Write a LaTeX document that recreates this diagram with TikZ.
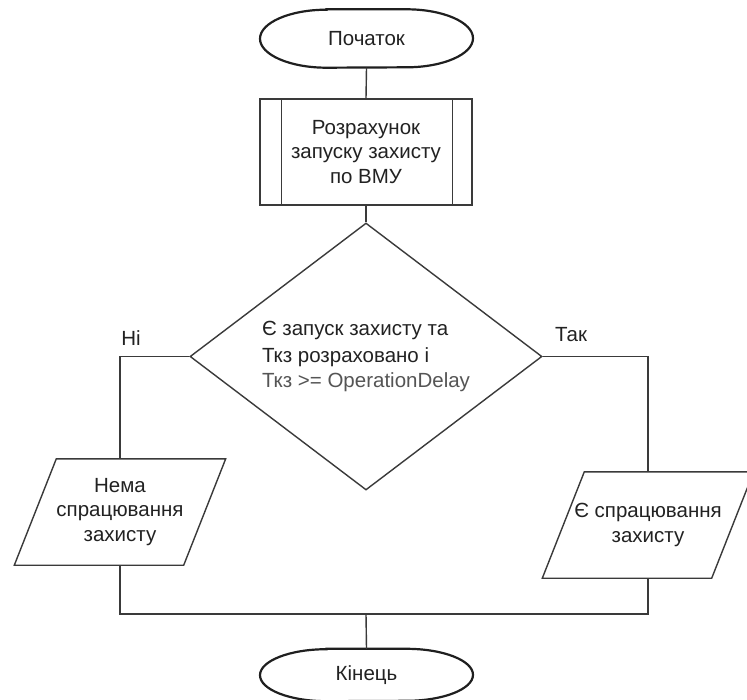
\documentclass[tikz,border=0pt]{standalone}
\usepackage{fontspec}
\setmainfont{Liberation Sans}
\usetikzlibrary{shapes.geometric}
\definecolor{ln}{HTML}{3A3A3A}
\definecolor{tx}{HTML}{222222}
\definecolor{txb}{HTML}{555555}
\begin{document}
\begin{tikzpicture}[x=1pt,y=-1pt,
  every node/.style={font=\fontsize{20.5}{24.5}\selectfont, text=tx, inner sep=0pt},
  conn/.style={draw=ln, line width=1.4pt},
  termline/.style={draw=black!88, line width=2.2pt},
  term/.style={minimum width=213pt, minimum height=58pt},
  procbox/.style={draw=ln, line width=1.4pt, minimum width=212pt, minimum height=106pt, align=center},
  decision/.style={diamond, draw=ln, line width=1.4pt, minimum width=352pt, minimum height=267pt, shape aspect=1.32, align=left},
  iobox/.style={minimum width=211pt, minimum height=106pt, align=center}
]
\useasboundingbox (0,0) rectangle (747,699);
\fill[white] (0,0) rectangle (747,699);

% nodes
\node[term] (start) at (366.5,38.5) {Початок};
\node[procbox] (calc) at (366,152) {Розрахунок\\запуску захисту\\по ВМУ};
\node[decision] (dec) at (366,356.5) {Є запуск захисту та\\[2pt]Ткз розраховано і\\[1pt]{\color{txb}Ткз >= OperationDelay}};
\node[iobox] (no) at (120,512) {Нема\\спрацювання\\захисту};
\node[iobox] (yes) at (648,525) {Є спрацювання\\захисту};
\node[term, minimum height=52pt] (end) at (366.5,675) {Кінець};
\node (nlabel) at (131,338) {Ні};
\node (ylabel) at (571,335) {Так};
\coordinate (join) at (366,614);

% terminator outlines
\draw[termline] ([xshift=-40pt]start.north) -- ([xshift=40pt]start.north)
  arc[start angle=90,end angle=-90,x radius=66.5pt,y radius=29pt]
  -- ([xshift=-40pt]start.south)
  arc[start angle=270,end angle=90,x radius=66.5pt,y radius=29pt] -- cycle;
\draw[termline] ([xshift=-40pt]end.north) -- ([xshift=40pt]end.north)
  arc[start angle=90,end angle=-90,x radius=66.5pt,y radius=26pt]
  -- ([xshift=-40pt]end.south)
  arc[start angle=270,end angle=90,x radius=66.5pt,y radius=26pt] -- cycle;

% predefined-process inner bars
\draw[conn] ([xshift=22pt]calc.north west) -- ([xshift=22pt]calc.south west);
\draw[conn] ([xshift=-20pt]calc.north east) -- ([xshift=-20pt]calc.south east);

% parallelograms
\draw[conn] (no.south west) -- ([xshift=42pt]no.north west) -- (no.north east) -- ([xshift=-42pt]no.south east) -- cycle;
\draw[conn] (yes.south west) -- ([xshift=42pt]yes.north west) -- (yes.north east) -- ([xshift=-42pt]yes.south east) -- cycle;

% connectors
\draw[conn] (start.south) -- (calc.north);
\draw[conn] (calc.south) -- (dec.north);
\draw[conn] (dec.west) -| (no.north);
\draw[conn] (dec.east) -| (yes.north);
\draw[conn] (no.south) |- (join) -| (yes.south);
\draw[conn] (join) -- (end.north);
\end{tikzpicture}
\end{document}
